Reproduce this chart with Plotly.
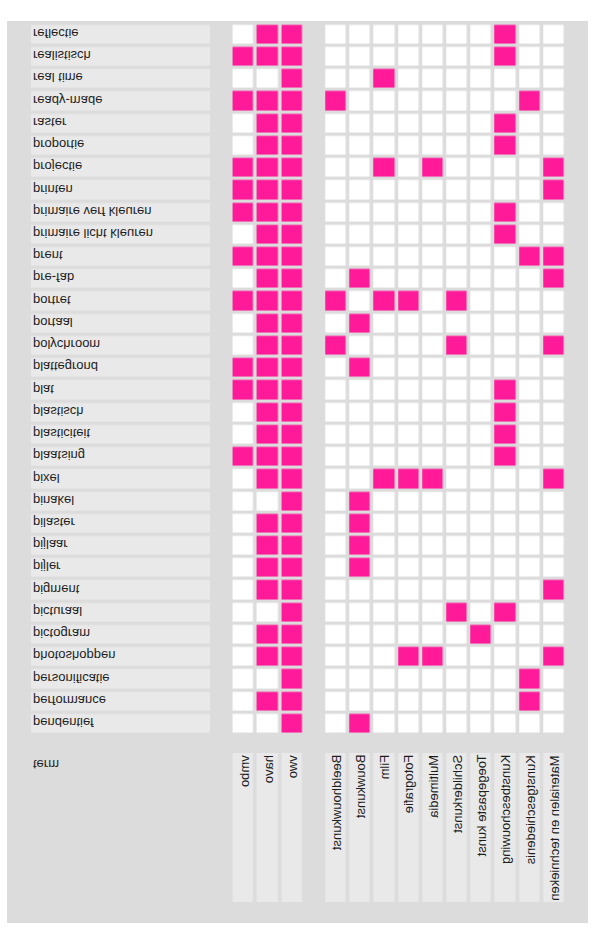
import plotly.graph_objects as go

W, H = 602, 940

terms = ["pendentief", "performance", "personificatie", "photoshoppen", "pictogram",
         "picturaal", "pigment", "pijler", "pijlaar", "pilaster", "pinakel", "pixel",
         "plaatsing", "plasticiteit", "plastisch", "plat", "plattegrond", "polychroom",
         "portaal", "portret", "pre-fab", "prent", "primaire licht kleuren",
         "primaire verf kleuren", "printen", "projectie", "proportie", "raster",
         "ready-made", "real time", "realistisch", "reflectie"]

levels = ["vmbo", "havo", "vwo"]
subjects = ["Beeldhouwkunst", "Bouwkunst", "Film", "Fotografie", "Multimedia",
            "Schilderkunst", "Toegepaste kunst", "Kunstbeschouwing",
            "Kunstgeschiedenis", "Materialen en technieken"]

level_values = [
    [0, 0, 1], [0, 1, 1], [0, 0, 1], [0, 1, 1], [0, 1, 1], [0, 0, 1], [0, 1, 1],
    [0, 1, 1], [0, 1, 1], [0, 1, 1], [0, 0, 1], [0, 1, 1], [1, 1, 1], [0, 1, 1],
    [0, 1, 1], [1, 1, 1], [1, 1, 1], [0, 1, 1], [0, 1, 1], [1, 1, 1], [0, 1, 1],
    [1, 1, 1], [0, 1, 1], [1, 1, 1], [1, 1, 1], [1, 1, 1], [0, 1, 1], [0, 1, 1],
    [1, 1, 1], [0, 0, 1], [1, 1, 1], [0, 1, 1],
]

subject_values = [
    [0, 1, 0, 0, 0, 0, 0, 0, 0, 0],  # pendentief
    [0, 0, 0, 0, 0, 0, 0, 0, 1, 0],  # performance
    [0, 0, 0, 0, 0, 0, 0, 0, 1, 0],  # personificatie
    [0, 0, 0, 1, 1, 0, 0, 0, 0, 1],  # photoshoppen
    [0, 0, 0, 0, 0, 0, 1, 0, 0, 0],  # pictogram
    [0, 0, 0, 0, 0, 1, 0, 1, 0, 0],  # picturaal
    [0, 0, 0, 0, 0, 0, 0, 0, 0, 1],  # pigment
    [0, 1, 0, 0, 0, 0, 0, 0, 0, 0],  # pijler
    [0, 1, 0, 0, 0, 0, 0, 0, 0, 0],  # pijlaar
    [0, 1, 0, 0, 0, 0, 0, 0, 0, 0],  # pilaster
    [0, 1, 0, 0, 0, 0, 0, 0, 0, 0],  # pinakel
    [0, 0, 1, 1, 1, 0, 0, 0, 0, 1],  # pixel
    [0, 0, 0, 0, 0, 0, 0, 1, 0, 0],  # plaatsing
    [0, 0, 0, 0, 0, 0, 0, 1, 0, 0],  # plasticiteit
    [0, 0, 0, 0, 0, 0, 0, 1, 0, 0],  # plastisch
    [0, 0, 0, 0, 0, 0, 0, 1, 0, 0],  # plat
    [0, 1, 0, 0, 0, 0, 0, 0, 0, 0],  # plattegrond
    [1, 0, 0, 0, 0, 1, 0, 0, 0, 1],  # polychroom
    [0, 1, 0, 0, 0, 0, 0, 0, 0, 0],  # portaal
    [1, 0, 1, 1, 0, 1, 0, 0, 0, 0],  # portret
    [0, 1, 0, 0, 0, 0, 0, 0, 0, 1],  # pre-fab
    [0, 0, 0, 0, 0, 0, 0, 0, 1, 1],  # prent
    [0, 0, 0, 0, 0, 0, 0, 1, 0, 0],  # primaire licht kleuren
    [0, 0, 0, 0, 0, 0, 0, 1, 0, 0],  # primaire verf kleuren
    [0, 0, 0, 0, 0, 0, 0, 0, 0, 1],  # printen
    [0, 0, 1, 0, 1, 0, 0, 0, 0, 1],  # projectie
    [0, 0, 0, 0, 0, 0, 0, 1, 0, 0],  # proportie
    [0, 0, 0, 0, 0, 0, 0, 1, 0, 0],  # raster
    [1, 0, 0, 0, 0, 0, 0, 0, 1, 0],  # ready-made
    [0, 0, 1, 0, 0, 0, 0, 0, 0, 0],  # real time
    [0, 0, 0, 0, 0, 0, 0, 1, 0, 0],  # realistisch
    [0, 0, 0, 0, 0, 0, 0, 1, 0, 0],  # reflectie
]

header_label = "term"

PINK = "#ff1a9a"
CELL_BG = "#e9e9e9"
PANEL_BG = "#dcdcdc"
TXT = "#1e1e1e"
FONT = "Liberation Sans, Arial, sans-serif"

# pixel geometry (figure drawn upright, flipped vertically afterwards)
def fx(px):
    return px / W

def fy(py):  # py measured in the flipped (displayed) picture from top
    return py / H

row_pitch = 22.226
rows_top_center = 722.5      # pendentief (displayed y)
rows_bot_center = 33.5       # reflectie
y_dom = [fy(rows_bot_center - row_pitch / 2), fy(rows_top_center + row_pitch / 2)]
hdr_dom = [fy(753), fy(902)]

lvl_pitch = 24.3
lvl_dom = [fx(243.7 - lvl_pitch / 2), fx(243.7 + 2.5 * lvl_pitch - 0.5 * lvl_pitch + lvl_pitch / 2 - lvl_pitch)]
lvl_dom = [fx(243.7 - lvl_pitch / 2), fx(243.7 + 2 * lvl_pitch + lvl_pitch / 2)]
sub_pitch = 24.19
sub_dom = [fx(336.3 - sub_pitch / 2), fx(336.3 + 9 * sub_pitch + sub_pitch / 2)]
lab_dom = [fx(31), fx(210)]

XGAP, YGAP = 3.6, 3.3
fig = go.Figure()

white_pink = [[0, "#ffffff"], [1, PINK]]
flat = [[0, CELL_BG], [1, CELL_BG]]

# row label cells
fig.add_trace(go.Heatmap(z=[[0] for _ in terms], x=[0], y=terms, xaxis="x3", yaxis="y",
                         colorscale=flat, showscale=False, ygap=YGAP, hoverinfo="skip"))
# level cells
fig.add_trace(go.Heatmap(z=level_values, x=levels, y=terms, xaxis="x", yaxis="y",
                         colorscale=white_pink, zmin=0, zmax=1, showscale=False,
                         xgap=XGAP, ygap=YGAP, hoverinfo="skip"))
# subject cells
fig.add_trace(go.Heatmap(z=subject_values, x=subjects, y=terms, xaxis="x2", yaxis="y",
                         colorscale=white_pink, zmin=0, zmax=1, showscale=False,
                         xgap=XGAP, ygap=YGAP, hoverinfo="skip"))
# header cells
fig.add_trace(go.Heatmap(z=[[0] * len(levels)], x=levels, y=[header_label], xaxis="x", yaxis="y2",
                         colorscale=flat, showscale=False, xgap=XGAP, hoverinfo="skip"))
fig.add_trace(go.Heatmap(z=[[0] * len(subjects)], x=subjects, y=[header_label], xaxis="x2", yaxis="y2",
                         colorscale=flat, showscale=False, xgap=XGAP, hoverinfo="skip"))

ann = []
for t in terms:
    ann.append(dict(text=t, x=fx(31), xref="paper", xanchor="left", y=t, yref="y",
                    yanchor="middle", showarrow=False, font=dict(size=13, color=TXT, family=FONT)))
for c in levels:
    ann.append(dict(text=c, x=c, xref="x", xanchor="center", y=0, yref="y2 domain",
                    yanchor="bottom", textangle=-90, showarrow=False,
                    font=dict(size=13, color=TXT, family=FONT)))
for c in subjects:
    ann.append(dict(text=c, x=c, xref="x2", xanchor="center", y=0, yref="y2 domain",
                    yanchor="bottom", textangle=-90, showarrow=False,
                    font=dict(size=13, color=TXT, family=FONT)))
ann.append(dict(text=header_label, x=fx(31), xref="paper", xanchor="left", y=fy(755),
                yref="paper", yanchor="bottom", showarrow=False,
                font=dict(size=13, color=TXT, family=FONT)))

hidden = dict(showgrid=False, zeroline=False, showticklabels=False, ticks="", showline=False, fixedrange=True)

fig.update_layout(
    width=W, height=H, margin=dict(l=0, r=0, t=0, b=0),
    paper_bgcolor="#ffffff", plot_bgcolor="rgba(0,0,0,0)",
    showlegend=False, annotations=ann,
    shapes=[dict(type="rect", xref="paper", yref="paper", x0=fx(7), x1=fx(588),
                 y0=fy(21), y1=fy(923), fillcolor=PANEL_BG, line=dict(width=0), layer="below")],
    xaxis=dict(domain=lvl_dom, range=[-0.5, 2.5], anchor="y", **hidden),
    xaxis2=dict(domain=sub_dom, range=[-0.5, 9.5], anchor="y", **hidden),
    xaxis3=dict(domain=lab_dom, range=[-0.5, 0.5], anchor="y", **hidden),
    yaxis=dict(domain=y_dom, range=[len(terms) - 0.5, -0.5], anchor="x", **hidden),
    yaxis2=dict(domain=hdr_dom, range=[-0.5, 0.5], anchor="x", **hidden),
)

post = ("document.body.style.margin='0';document.body.style.overflow='hidden';"
        "var d=document.getElementById('{plot_id}');d.style.transform='scaleY(-1)';")
fig.write_html("out.html", config={"displayModeBar": False}, post_script=post)
